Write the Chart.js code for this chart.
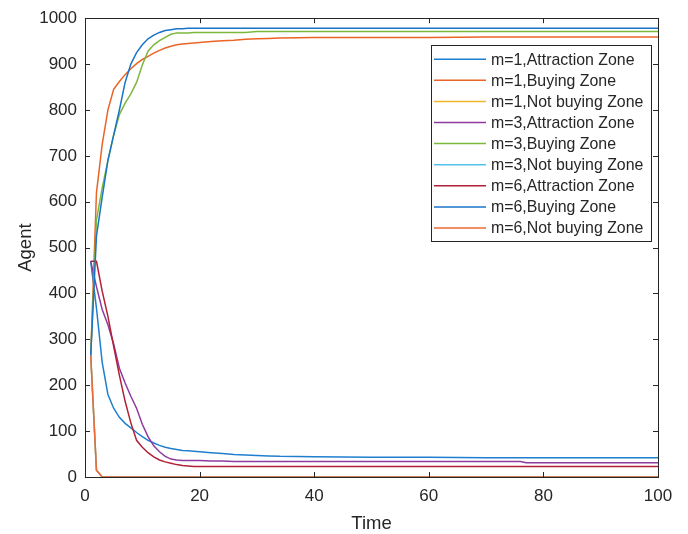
<!DOCTYPE html>
<html>
<head>
<meta charset="utf-8">
<script src="https://cdn.jsdelivr.net/npm/chart.js@4/dist/chart.umd.min.js"></script>
<style>
html,body{margin:0;padding:0;background:#fff;}
canvas{display:block;}
</style>
</head>
<body>
<canvas id="c" width="688" height="534"></canvas>
<script>
// ---- data ----
const timeSteps = [1,2,3,4,5,6,7,8,9,10,11,12,13,14,15,16,17,18,19,20,22,24,26,28,30,32,34,40,50,60,70,76,77,80,90,100];

const m1Attraction = [470,368,250,180,150,130,117,107,97,88,80,74,69,65,62,60,58,57,56,55,53,51,49,48,47,46,45,44,43,43,42,42,42,42,42,42];
const m1Buying     = [265,620,725,800,845,862,877,890,901,910,917,924,930,935,939,942,944,945,946,947,949,951,952,954,955,956,957,958,958,958,959,959,959,959,959,959];
const m1NotBuying  = [265,15,0,0,0,0,0,0,0,0,0,0,0,0,0,0,0,0,0,0,0,0,0,0,0,0,0,0,0,0,0,0,0,0,0,0];
const m3Attraction = [470,415,365,332,290,237,205,176,150,115,88,68,55,45,39,37,36,36,36,36,35,35,34,34,34,34,34,34,34,34,34,34,31,31,31,31];
const m3Buying     = [265,560,630,690,745,790,815,835,860,898,928,942,951,958,965,968,968,968,969,969,969,969,969,969,971,971,971,971,971,971,971,971,971,971,971,971];
const m3NotBuying  = [265,15,0,0,0,0,0,0,0,0,0,0,0,0,0,0,0,0,0,0,0,0,0,0,0,0,0,0,0,0,0,0,0,0,0,0];
const m6Attraction = [470,470,405,350,285,222,165,118,80,65,53,44,37,33,30,27,25,24,23,23,23,23,23,23,23,23,23,23,23,23,23,23,23,23,23,23];
const m6Buying     = [265,525,610,690,745,800,860,900,925,942,955,963,969,973,975,977,977,978,978,978,978,978,978,978,978,978,978,978,978,978,978,978,978,978,978,978];
const m6NotBuying  = [265,15,0,0,0,0,0,0,0,0,0,0,0,0,0,0,0,0,0,0,0,0,0,0,0,0,0,0,0,0,0,0,0,0,0,0];

const seriesNames = ["m=1,Attraction Zone","m=1,Buying Zone","m=1,Not buying Zone",
                     "m=3,Attraction Zone","m=3,Buying Zone","m=3,Not buying Zone",
                     "m=6,Attraction Zone","m=6,Buying Zone","m=6,Not buying Zone"];
const seriesValues = [m1Attraction,m1Buying,m1NotBuying,m3Attraction,m3Buying,m3NotBuying,m6Attraction,m6Buying,m6NotBuying];
const seriesColors = ["#1f7fcf","#ea6426","#f2b42a","#8e3b9e","#7cb83a","#52c2ef","#b22038","#1a74c8","#ec6a35"];

const xTicks = [0,20,40,60,80,100];
const yTicks = [0,100,200,300,400,500,600,700,800,900,1000];

const FONT = "'Liberation Sans', Arial, Helvetica, sans-serif";
const TEXT = "#262626";

const datasets = seriesValues.map((vals,i)=>({
  label: seriesNames[i],
  data: timeSteps.map((t,j)=>({x:t,y:vals[j]})),
  borderColor: seriesColors[i],
  backgroundColor: seriesColors[i],
  borderWidth: 1.5,
  pointRadius: 0,
  tension: 0,
  fill: false,
  order: seriesValues.length - i
}));

const boxPlugin = {
  id: 'boxTicksLegend',
  afterDatasetsDraw(chart){
    const ctx = chart.ctx;
    const a = chart.chartArea;
    const xs = chart.scales.x, ys = chart.scales.y;
    ctx.save();
    ctx.strokeStyle = TEXT;
    ctx.lineWidth = 1;
    // box
    ctx.strokeRect(Math.round(a.left)+0.5, Math.round(a.top)+0.5, Math.round(a.right-a.left), Math.round(a.bottom-a.top));
    // inward ticks
    const tl = 5;
    ctx.beginPath();
    xTicks.forEach(v=>{
      const px = Math.round(xs.getPixelForValue(v))+0.5;
      ctx.moveTo(px, a.bottom); ctx.lineTo(px, a.bottom-tl);
      ctx.moveTo(px, a.top); ctx.lineTo(px, a.top+tl);
    });
    yTicks.forEach(v=>{
      const py = Math.round(ys.getPixelForValue(v))+0.5;
      ctx.moveTo(a.left, py); ctx.lineTo(a.left+tl, py);
      ctx.moveTo(a.right, py); ctx.lineTo(a.right-tl, py);
    });
    ctx.stroke();

    // legend inside plot, top-right
    const lw = 220, rowH = 21.1;
    const lx = a.right - 7 - lw, ly = a.top + 27;
    const lh = rowH*seriesNames.length + 6;
    ctx.fillStyle = '#fff';
    ctx.fillRect(lx, ly, lw, lh);
    ctx.strokeStyle = '#262626';
    ctx.strokeRect(Math.round(lx)+0.5, Math.round(ly)+0.5, lw, Math.round(lh));
    ctx.font = "15.9px " + FONT;
    ctx.textBaseline = 'middle';
    ctx.textAlign = 'left';
    seriesNames.forEach((name,i)=>{
      const cy = ly + 14 + i*rowH;
      ctx.strokeStyle = seriesColors[i];
      ctx.lineWidth = 1.5;
      ctx.beginPath();
      ctx.moveTo(lx+3, cy); ctx.lineTo(lx+55, cy);
      ctx.stroke();
      ctx.fillStyle = TEXT;
      ctx.fillText(name, lx+60, cy+1);
    });
    ctx.restore();
  }
};

new Chart(document.getElementById('c'), {
  type: 'line',
  data: { datasets },
  options: {
    responsive: false,
    animation: false,
    devicePixelRatio: 1,
    layout: { padding: { top: 15, right: 30, left: 0, bottom: 0 } },
    plugins: { legend: { display: false }, tooltip: { enabled: false } },
    scales: {
      x: {
        type: 'linear', min: 0, max: 100,
        afterBuildTicks: s => { s.ticks = xTicks.map(v=>({value:v})); },
        ticks: { font: { family: FONT, size: 17 }, color: TEXT, padding: 9, maxRotation: 0, callback: v => String(v) },
        grid: { display: false, drawTicks: false },
        border: { display: false },
        title: { display: true, text: 'Time', font: { family: FONT, size: 18.5 }, color: TEXT, padding: { top: 0, bottom: -1 } },
        afterFit: s => { s.height = 57; }
      },
      y: {
        type: 'linear', min: 0, max: 1000,
        afterBuildTicks: s => { s.ticks = yTicks.map(v=>({value:v})); },
        ticks: { font: { family: FONT, size: 17 }, color: TEXT, padding: 8, callback: v => String(v) },
        grid: { display: false, drawTicks: false },
        border: { display: false },
        title: { display: true, text: 'Agent', font: { family: FONT, size: 18.5 }, color: TEXT, padding: { top: 15, bottom: 0 } },
        afterFit: s => { s.width = 85; }
      }
    }
  },
  plugins: [boxPlugin]
});
</script>
</body>
</html>
